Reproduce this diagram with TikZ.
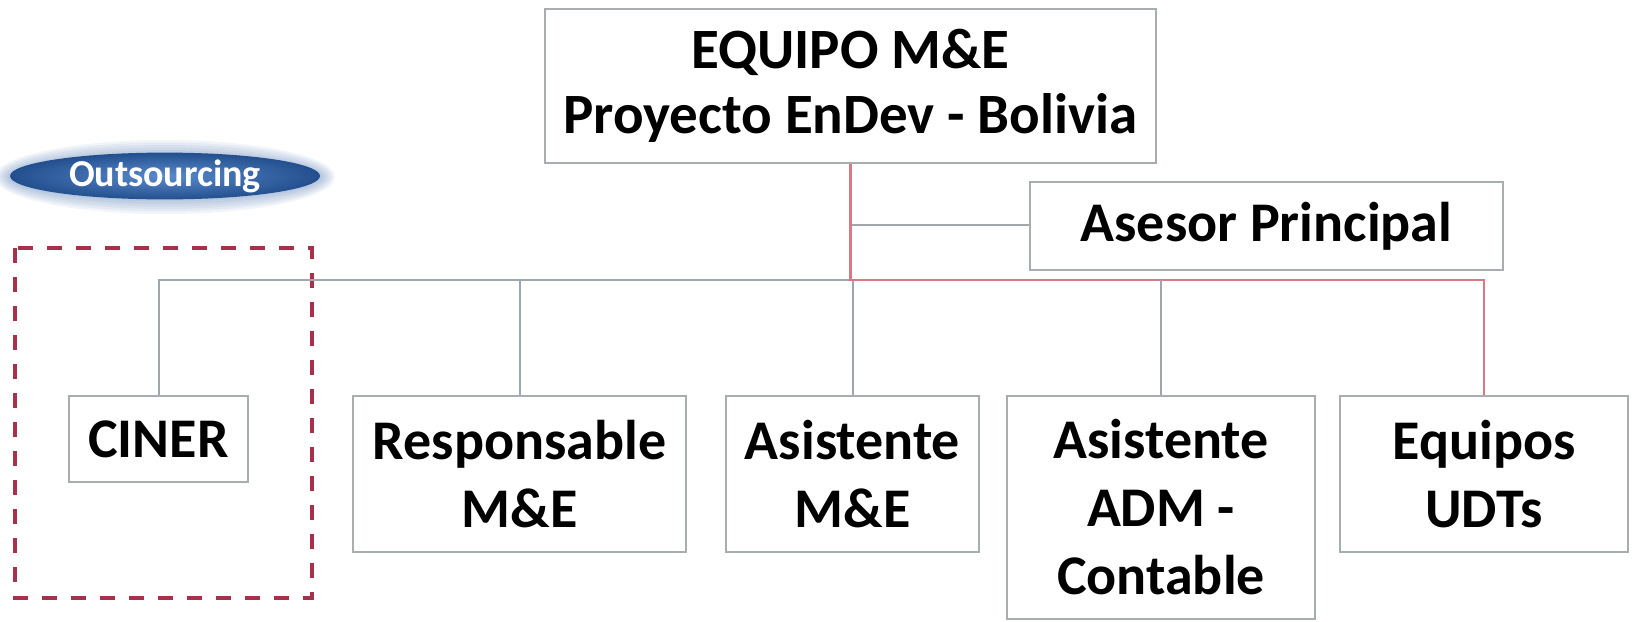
\documentclass[tikz,border=0pt]{standalone}
\usepackage{fontspec}
\setmainfont{Carlito}
\usetikzlibrary{shapes.geometric}
\definecolor{boxgray}{HTML}{A8ADB0}
\definecolor{linegray}{HTML}{A0A7AC}
\definecolor{linered}{HTML}{D77A86}
\definecolor{dashred}{HTML}{A8304A}
\definecolor{blueout}{HTML}{234F8E}
\definecolor{bluein}{HTML}{5A8ACB}
\definecolor{glow}{HTML}{3A66A8}
\begin{document}
\begin{tikzpicture}[x=1pt,y=-1pt,
  orgbox/.style={draw=boxgray, line width=2pt, fill=white, inner sep=0pt, align=center,
    font=\bfseries\fontsize{56}{68}\selectfont},
  conn/.style={draw=linegray, line width=2pt},
  redconn/.style={draw=linered, line width=2.5pt},
  dashbox/.style={draw=dashred, line width=4pt, dash pattern=on 15pt off 14pt}]
\useasboundingbox (0,0) rectangle (1632,621);

% outsourcing ellipse with soft glow
\foreach \i in {1,...,6}
  \fill[glow, opacity=0.07] (165,177) ellipse ({155pt+2.5pt*\i} and {22pt+2.5pt*\i});
\node[ellipse, minimum width=310pt, minimum height=44pt, inner sep=0pt,
  inner color=bluein, outer color=blueout, text=white,
  font=\bfseries\fontsize{38}{40}\selectfont] (out) at (165,176) {Outsourcing};

% dashed outsourcing frame
\draw[dashbox] (15,248) rectangle (312,598);

% nodes
\node[orgbox, minimum width=611pt, minimum height=154pt,
  font=\bfseries\fontsize{57}{65}\selectfont] (top) at (850.5,86)
  {EQUIPO M\&E\\Proyecto EnDev - Bolivia};
\node[orgbox, minimum width=473pt, minimum height=88pt] (asesor) at (1266.5,226) {Asesor Principal};
\node[orgbox, minimum width=179pt, minimum height=86pt] (ciner) at (158.5,439) {CINER};
\node[orgbox, minimum width=333pt, minimum height=156pt] (resp) at (519.5,474) {Responsable\\M\&E};
\node[orgbox, minimum width=253pt, minimum height=156pt] (asme) at (852.5,474) {Asistente\\M\&E};
\node[orgbox, minimum width=308pt, minimum height=223pt] (adm) at (1161,507.5) {Asistente\\ADM -\\Contable};
\node[orgbox, minimum width=288pt, minimum height=156pt] (equ) at (1484,474) {Equipos\\UDTs};

% junction coordinates
\path (top.south) ++(0,116) coordinate (hub);
\path (top.south) ++(0,61) coordinate (asj);

% connectors
\draw[conn] (asj) -- (asj -| asesor.west);
\draw[conn] (hub) -| (ciner.north);
\draw[conn] (hub -| resp.north) -- (resp.north);
\draw[conn] (hub -| asme.north) -- (asme.north);
\draw[redconn] (top.south) -- (hub) -| (equ.north);
\draw[conn] (hub -| adm.north) -- (adm.north);
\end{tikzpicture}
\end{document}
